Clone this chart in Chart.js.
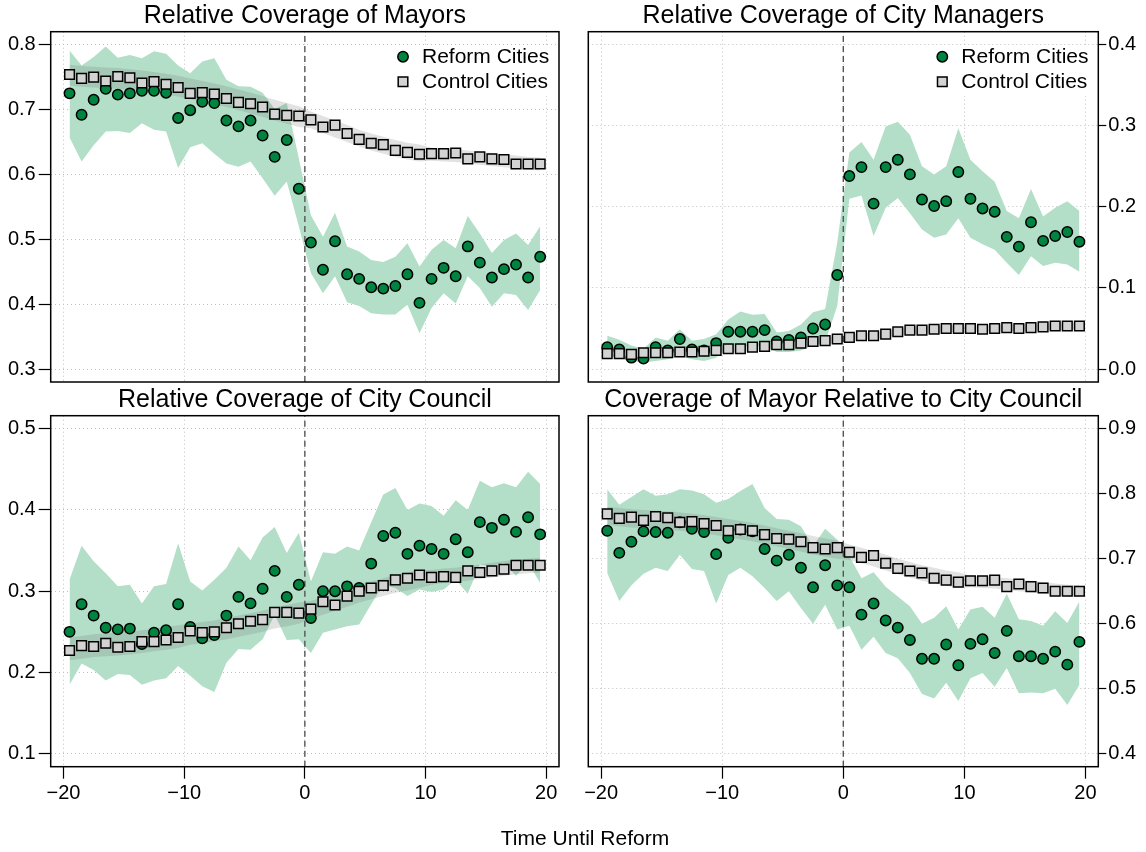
<!DOCTYPE html>
<html>
<head>
<meta charset="utf-8">
<title>Coverage before and after reform</title>
<script src="https://cdn.jsdelivr.net/npm/chart.js@4.4.1/dist/chart.umd.min.js"></script>
<style>
  html, body { margin: 0; padding: 0; background: #fff; }
  body { width: 1146px; height: 852px; position: relative; overflow: hidden;
         font-family: "Liberation Sans", Arial, Helvetica, sans-serif; }
  canvas { position: absolute; display: block; }
  #xlabel { position: absolute; left: 285px; width: 600px; top: 826px; line-height: 24px;
            text-align: center; font-size: 21px; color: #000; }
</style>
</head>
<body>
<canvas id="p1" width="573" height="398" style="left:0;top:0"></canvas>
<canvas id="p2" width="573" height="398" style="left:573px;top:0"></canvas>
<canvas id="p3" width="573" height="468" style="left:0;top:384px"></canvas>
<canvas id="p4" width="573" height="468" style="left:573px;top:384px"></canvas>
<div id="xlabel">Time Until Reform</div>
<script>
// ---- data -------------------------------------------------------------
const times = [-19.5,-18.5,-17.5,-16.5,-15.5,-14.5,-13.5,-12.5,-11.5,-10.5,
               -9.5,-8.5,-7.5,-6.5,-5.5,-4.5,-3.5,-2.5,-1.5,-0.5,
               0.5,1.5,2.5,3.5,4.5,5.5,6.5,7.5,8.5,9.5,
               10.5,11.5,12.5,13.5,14.5,15.5,16.5,17.5,18.5,19.5];

const xTicks = [-20, -10, 0, 10, 20];
const xTickLabels = ['\u221220', '\u221210', '0', '10', '20'];
const seriesNames = ['Reform Cities', 'Control Cities'];

// Relative coverage of mayors
const mayorReform = [0.725,0.692,0.715,0.732,0.723,0.725,0.729,0.729,0.726,0.687,
                     0.699,0.712,0.710,0.683,0.674,0.683,0.660,0.627,0.653,0.578,
                     0.495,0.453,0.497,0.446,0.439,0.426,0.424,0.428,0.446,0.402,
                     0.439,0.456,0.443,0.489,0.464,0.441,0.454,0.461,0.441,0.473];
const mayorReformHi = [0.791,0.768,0.781,0.797,0.780,0.784,0.779,0.790,0.786,0.768,
                       0.756,0.774,0.779,0.746,0.736,0.735,0.726,0.701,0.710,0.625,
                       0.537,0.504,0.541,0.489,0.481,0.468,0.465,0.473,0.494,0.458,
                       0.484,0.499,0.486,0.536,0.509,0.479,0.499,0.509,0.491,0.520];
const mayorReformLo = [0.657,0.620,0.645,0.666,0.667,0.664,0.679,0.669,0.666,0.610,
                       0.642,0.648,0.632,0.617,0.612,0.620,0.594,0.567,0.589,0.520,
                       0.448,0.417,0.443,0.403,0.397,0.386,0.384,0.384,0.399,0.355,
                       0.394,0.417,0.401,0.443,0.425,0.396,0.417,0.414,0.391,0.422];
const mayorControl = [0.754,0.748,0.750,0.744,0.751,0.749,0.741,0.743,0.739,0.734,
                      0.725,0.726,0.724,0.717,0.711,0.709,0.704,0.693,0.691,0.690,
                      0.684,0.673,0.676,0.663,0.654,0.648,0.646,0.637,0.634,0.631,
                      0.632,0.632,0.633,0.624,0.627,0.624,0.623,0.616,0.616,0.616];
const mayorControlHi = [0.769,0.767,0.766,0.765,0.764,0.762,0.760,0.758,0.755,0.752,
                        0.748,0.744,0.740,0.736,0.731,0.726,0.721,0.715,0.710,0.705,
                        0.697,0.690,0.683,0.676,0.669,0.663,0.658,0.653,0.649,0.646,
                        0.641,0.640,0.639,0.637,0.635,0.633,0.631,0.629,0.627,0.626];
const mayorControlLo = [0.737,0.735,0.734,0.733,0.732,0.730,0.728,0.726,0.723,0.720,
                        0.716,0.712,0.708,0.704,0.699,0.694,0.689,0.683,0.678,0.673,
                        0.671,0.664,0.657,0.650,0.643,0.637,0.632,0.627,0.623,0.620,
                        0.621,0.620,0.619,0.617,0.615,0.613,0.611,0.609,0.607,0.606];
const mayorTicks = [0.3, 0.4, 0.5, 0.6, 0.7, 0.8];
const mayorTickLabels = ['0.3', '0.4', '0.5', '0.6', '0.7', '0.8'];

// Relative coverage of city managers
const managerReform = [0.027,0.024,0.014,0.013,0.027,0.023,0.037,0.024,0.023,0.032,
                       0.046,0.046,0.046,0.048,0.034,0.036,0.039,0.050,0.055,0.116,
                       0.238,0.249,0.204,0.249,0.258,0.240,0.209,0.201,0.207,0.243,
                       0.210,0.198,0.194,0.163,0.151,0.181,0.158,0.164,0.169,0.157];
const managerReformHi = [0.041,0.036,0.029,0.025,0.039,0.035,0.049,0.035,0.037,0.043,
                         0.061,0.071,0.067,0.068,0.045,0.047,0.055,0.070,0.074,0.156,
                         0.267,0.280,0.258,0.299,0.305,0.289,0.250,0.240,0.250,0.297,
                         0.258,0.244,0.231,0.195,0.186,0.222,0.188,0.199,0.207,0.195];
const managerReformLo = [0.016,0.014,0.010,0.008,0.010,0.012,0.016,0.012,0.010,0.014,
                         0.029,0.029,0.028,0.029,0.021,0.021,0.023,0.029,0.033,0.078,
                         0.210,0.214,0.164,0.199,0.211,0.192,0.172,0.162,0.166,0.186,
                         0.162,0.154,0.147,0.131,0.116,0.139,0.127,0.131,0.129,0.120];
const managerControl = [0.019,0.019,0.018,0.020,0.020,0.020,0.021,0.021,0.022,0.023,
                        0.025,0.025,0.027,0.028,0.030,0.030,0.032,0.034,0.035,0.037,
                        0.039,0.041,0.041,0.043,0.046,0.048,0.048,0.049,0.050,0.050,
                        0.050,0.049,0.050,0.051,0.050,0.051,0.052,0.053,0.053,0.053];
const managerControlHi = [0.023,0.023,0.023,0.0235,0.0238,0.024,0.025,0.0255,0.026,0.027,
                          0.0285,0.0295,0.0305,0.032,0.033,0.034,0.036,0.0375,0.039,0.0405,
                          0.042,0.044,0.045,0.047,0.0495,0.051,0.052,0.053,0.0535,0.054,
                          0.054,0.054,0.054,0.055,0.055,0.0555,0.056,0.0565,0.0568,0.057];
const managerControlLo = [0.015,0.015,0.015,0.0155,0.0158,0.016,0.017,0.0175,0.018,0.019,
                          0.0205,0.0215,0.0225,0.024,0.025,0.026,0.028,0.0295,0.031,0.0325,
                          0.034,0.036,0.037,0.039,0.0415,0.043,0.044,0.045,0.0455,0.046,
                          0.046,0.046,0.046,0.047,0.047,0.0475,0.048,0.0485,0.0488,0.049];
const managerTicks = [0.0, 0.1, 0.2, 0.3, 0.4];
const managerTickLabels = ['0.0', '0.1', '0.2', '0.3', '0.4'];

// Relative coverage of city council
const councilReform = [0.250,0.284,0.270,0.255,0.253,0.254,0.235,0.249,0.252,0.284,
                       0.256,0.242,0.246,0.270,0.293,0.285,0.303,0.325,0.293,0.308,
                       0.267,0.300,0.300,0.306,0.304,0.334,0.368,0.372,0.346,0.356,
                       0.352,0.346,0.364,0.348,0.385,0.378,0.388,0.373,0.391,0.370];
const councilReformHi = [0.314,0.356,0.337,0.322,0.306,0.308,0.285,0.306,0.309,0.359,
                         0.312,0.301,0.314,0.329,0.355,0.338,0.366,0.379,0.347,0.372,
                         0.312,0.348,0.346,0.355,0.350,0.385,0.419,0.427,0.400,0.408,
                         0.405,0.393,0.412,0.400,0.436,0.428,0.433,0.428,0.447,0.432];
const councilReformLo = [0.185,0.211,0.203,0.190,0.198,0.197,0.185,0.190,0.193,0.208,
                         0.196,0.183,0.176,0.212,0.229,0.228,0.241,0.271,0.240,0.241,
                         0.224,0.249,0.253,0.257,0.259,0.284,0.308,0.304,0.294,0.302,
                         0.299,0.302,0.314,0.297,0.333,0.331,0.335,0.319,0.335,0.310];
const councilControl = [0.227,0.233,0.232,0.236,0.231,0.232,0.238,0.238,0.240,0.243,
                        0.251,0.249,0.250,0.255,0.260,0.263,0.265,0.274,0.274,0.273,
                        0.278,0.287,0.283,0.294,0.300,0.304,0.307,0.314,0.316,0.320,
                        0.317,0.318,0.317,0.325,0.323,0.325,0.327,0.332,0.332,0.332];
const councilControlHi = [0.243,0.245,0.247,0.248,0.249,0.250,0.252,0.254,0.256,0.258,
                          0.260,0.262,0.264,0.267,0.270,0.273,0.276,0.280,0.283,0.286,
                          0.288,0.293,0.298,0.303,0.308,0.312,0.316,0.320,0.323,0.326,
                          0.326,0.328,0.329,0.331,0.333,0.335,0.337,0.339,0.340,0.341];
const councilControlLo = [0.215,0.217,0.219,0.220,0.221,0.222,0.224,0.226,0.228,0.230,
                          0.234,0.236,0.238,0.241,0.244,0.247,0.250,0.254,0.257,0.260,
                          0.266,0.271,0.276,0.281,0.286,0.290,0.294,0.298,0.301,0.304,
                          0.308,0.310,0.311,0.313,0.315,0.317,0.319,0.321,0.322,0.323];
const councilTicks = [0.1, 0.2, 0.3, 0.4, 0.5];
const councilTickLabels = ['0.1', '0.2', '0.3', '0.4', '0.5'];

// Coverage of mayor relative to city council
const ratioReform = [0.743,0.709,0.726,0.742,0.741,0.740,0.756,0.746,0.741,0.707,
                     0.732,0.745,0.742,0.715,0.697,0.706,0.686,0.656,0.690,0.659,
                     0.656,0.614,0.631,0.605,0.594,0.575,0.546,0.546,0.568,0.536,
                     0.569,0.576,0.555,0.589,0.550,0.550,0.546,0.557,0.537,0.572];
const ratioReformHi = [0.807,0.783,0.795,0.807,0.797,0.799,0.807,0.805,0.799,0.786,
                       0.792,0.804,0.815,0.778,0.761,0.760,0.750,0.719,0.746,0.729,
                       0.704,0.670,0.679,0.657,0.642,0.627,0.600,0.609,0.627,0.591,
                       0.622,0.626,0.609,0.646,0.607,0.604,0.597,0.619,0.601,0.634];
const ratioReformLo = [0.678,0.635,0.659,0.677,0.686,0.681,0.706,0.684,0.681,0.631,
                       0.675,0.686,0.673,0.655,0.635,0.650,0.624,0.600,0.629,0.591,
                       0.597,0.560,0.580,0.555,0.547,0.524,0.492,0.485,0.509,0.481,
                       0.516,0.524,0.503,0.532,0.493,0.494,0.493,0.500,0.475,0.506];
const ratioControl = [0.769,0.762,0.764,0.759,0.765,0.763,0.756,0.757,0.754,0.751,
                      0.743,0.745,0.743,0.737,0.731,0.730,0.726,0.717,0.715,0.717,
                      0.710,0.702,0.705,0.693,0.685,0.681,0.678,0.670,0.667,0.664,
                      0.666,0.666,0.667,0.657,0.661,0.657,0.655,0.650,0.650,0.650];
const ratioControlHi = [0.780,0.778,0.776,0.775,0.774,0.773,0.771,0.769,0.767,0.764,
                        0.761,0.758,0.755,0.751,0.747,0.743,0.739,0.735,0.731,0.728,
                        0.722,0.717,0.712,0.706,0.700,0.695,0.690,0.686,0.682,0.679,
                        0.674,0.673,0.672,0.670,0.668,0.666,0.664,0.662,0.660,0.659];
const ratioControlLo = [0.752,0.750,0.748,0.747,0.746,0.745,0.743,0.741,0.739,0.736,
                        0.733,0.730,0.727,0.723,0.719,0.715,0.711,0.707,0.703,0.700,
                        0.698,0.693,0.688,0.682,0.676,0.671,0.666,0.662,0.658,0.655,
                        0.656,0.655,0.654,0.652,0.650,0.648,0.646,0.644,0.642,0.641];
const ratioTicks = [0.4, 0.5, 0.6, 0.7, 0.8, 0.9];
const ratioTickLabels = ['0.4', '0.5', '0.6', '0.7', '0.8', '0.9'];

// ---- styling ----------------------------------------------------------
const FONT = '"Liberation Sans", Arial, Helvetica, sans-serif';
const GREEN = '#00843f';
const GREEN_BAND = '#b3dec8';
const GREY_BAND = 'rgba(110,110,110,0.2)';
const SQUARE_FILL = '#d3d3d3';
const GRID = '#c0c0c0';
const X_MIN = -21.06, X_MAX = 21.06;

const asPoints = arr => times.map((t, i) => ({ x: t, y: arr[i] }));

function band(values, color, order, fillPrev) {
  return {
    data: asPoints(values), order,
    showLine: true, pointRadius: 0, borderWidth: 0, borderColor: 'transparent',
    backgroundColor: color, fill: fillPrev ? '-1' : false, tension: 0
  };
}

// frame around the plotting region
const frame = {
  id: 'frame',
  afterDraw(chart) {
    const { ctx, chartArea: a } = chart;
    ctx.save();
    ctx.strokeStyle = '#000';
    ctx.lineWidth = 1.5;
    ctx.strokeRect(a.left, a.top, a.right - a.left, a.bottom - a.top);
    ctx.restore();
  }
};

// key in the upper-right corner, drawn from the two marker datasets
const cornerKey = {
  id: 'cornerKey',
  afterDatasetsDraw(chart, args, opts) {
    if (!opts.show) return;
    const { ctx, chartArea: a } = chart;
    const mx = a.right - 156;
    ctx.save();
    ctx.fillStyle = '#fff';
    ctx.fillRect(mx - 10, a.top + 14, a.right - 2 - (mx - 10), 50);
    ctx.font = '21px ' + FONT;
    ctx.textBaseline = 'middle';
    opts.datasets.forEach((di, k) => {
      const ds = chart.data.datasets[di];
      const my = a.top + 25 + 25 * k;
      ctx.beginPath();
      if (ds.pointStyle === 'rect') {
        const h = Math.SQRT1_2 * ds.pointRadius;
        ctx.rect(mx - h, my - h, 2 * h, 2 * h);
      } else {
        ctx.arc(mx, my, ds.pointRadius, 0, Math.PI * 2);
      }
      ctx.fillStyle = ds.pointBackgroundColor;
      ctx.fill();
      ctx.lineWidth = ds.pointBorderWidth;
      ctx.strokeStyle = '#000';
      ctx.stroke();
      ctx.fillStyle = '#000';
      ctx.fillText(ds.label, mx + 19, my + 1);
    });
    ctx.restore();
  }
};

function makePanel(id, p) {
  const right = p.side === 'right';
  const datasets = [
    band(p.reformLo, GREEN_BAND, 6, false),
    band(p.reformHi, GREEN_BAND, 5, true),
    band(p.controlLo, GREY_BAND, 4, false),
    band(p.controlHi, GREY_BAND, 3, true),
    { // reform date marker
      data: [{ x: 0, y: p.yMin }, { x: 0, y: p.yMax }], order: 2,
      showLine: true, pointRadius: 0, borderColor: '#555', borderWidth: 1.4,
      borderDash: [6, 4], fill: false
    },
    {
      label: seriesNames[0], data: asPoints(p.reform), order: 1, showLine: false,
      pointStyle: 'circle', pointRadius: 5.2, pointBackgroundColor: GREEN,
      pointBorderColor: '#000', pointBorderWidth: 1.5
    },
    {
      label: seriesNames[1], data: asPoints(p.control), order: 0, showLine: false,
      pointStyle: 'rect', pointRadius: 6.8, pointBackgroundColor: SQUARE_FILL,
      pointBorderColor: '#000', pointBorderWidth: 1.5
    }
  ];

  return new Chart(document.getElementById(id), {
    type: 'line',
    data: { datasets },
    plugins: [frame, cornerKey],
    options: {
      responsive: false, animation: false, devicePixelRatio: 1, events: [],
      layout: { padding: right
        ? { left: 15.3, right: 0, top: 0, bottom: p.bottomAxis ? 0 : 16 }
        : { left: 0, right: 14, top: 0, bottom: p.bottomAxis ? 0 : 16 } },
      plugins: {
        legend: { display: false },
        tooltip: { enabled: false },
        title: {
          display: true, text: p.title, color: '#000', fullSize: false,
          font: { family: FONT, size: 25, weight: 'normal', lineHeight: 1 },
          padding: { top: 4, bottom: 2.7 }
        },
        cornerKey: { show: !!p.key, datasets: [5, 6] }
      },
      scales: {
        x: {
          type: 'linear', min: X_MIN, max: X_MAX,
          afterBuildTicks: s => { s.ticks = xTicks.map(v => ({ value: v })); },
          afterFit: s => { s.height = p.bottomAxis ? 85.3 : 0; },
          ticks: {
            display: !!p.bottomAxis, color: '#000', padding: 3, maxRotation: 0,
            font: { family: FONT, size: 20 },
            callback: (v, i) => xTickLabels[i]
          },
          grid: { color: GRID, lineWidth: 1, drawTicks: !!p.bottomAxis, tickLength: 12,
                  tickColor: '#000', tickWidth: 1.2 },
          border: { display: false, dash: [1, 3] }
        },
        y: {
          type: 'linear', position: p.side, min: p.yMin, max: p.yMax,
          afterBuildTicks: s => { s.ticks = p.ticks.map(v => ({ value: v })); },
          afterFit: s => { s.width = right ? 47.7 : 50.7; },
          ticks: {
            color: '#000', padding: right ? 2 : 3,
            font: { family: FONT, size: 20 },
            callback: (v, i) => p.tickLabels[i]
          },
          grid: { color: GRID, lineWidth: 1, drawTicks: true, tickLength: right ? 8 : 12,
                  tickColor: '#000', tickWidth: 1.2 },
          border: { display: false, dash: [1, 3] }
        }
      }
    }
  });
}

makePanel('p1', {
  title: 'Relative Coverage of Mayors', side: 'left', key: true,
  yMin: 0.28, yMax: 0.82, ticks: mayorTicks, tickLabels: mayorTickLabels,
  reform: mayorReform, reformHi: mayorReformHi, reformLo: mayorReformLo,
  control: mayorControl, controlHi: mayorControlHi, controlLo: mayorControlLo
});
makePanel('p2', {
  title: 'Relative Coverage of City Managers', side: 'right', key: true,
  yMin: -0.016, yMax: 0.416, ticks: managerTicks, tickLabels: managerTickLabels,
  reform: managerReform, reformHi: managerReformHi, reformLo: managerReformLo,
  control: managerControl, controlHi: managerControlHi, controlLo: managerControlLo
});
makePanel('p3', {
  title: 'Relative Coverage of City Council', side: 'left', bottomAxis: true,
  yMin: 0.084, yMax: 0.516, ticks: councilTicks, tickLabels: councilTickLabels,
  reform: councilReform, reformHi: councilReformHi, reformLo: councilReformLo,
  control: councilControl, controlHi: councilControlHi, controlLo: councilControlLo
});
makePanel('p4', {
  title: 'Coverage of Mayor Relative to City Council', side: 'right', bottomAxis: true,
  yMin: 0.38, yMax: 0.92, ticks: ratioTicks, tickLabels: ratioTickLabels,
  reform: ratioReform, reformHi: ratioReformHi, reformLo: ratioReformLo,
  control: ratioControl, controlHi: ratioControlHi, controlLo: ratioControlLo
});
</script>
</body>
</html>
